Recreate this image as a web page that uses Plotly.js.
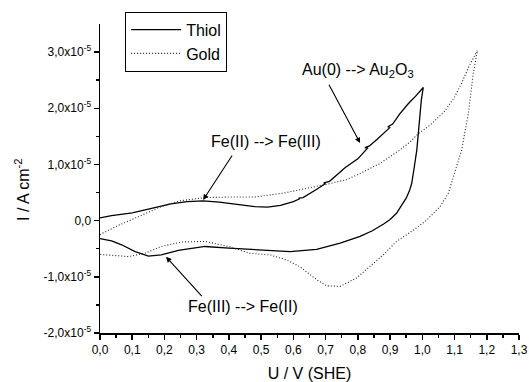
<!DOCTYPE html>
<html>
<head>
<meta charset="utf-8">
<script src="https://cdn.plot.ly/plotly-3.0.1.min.js"></script>
<style>html,body{margin:0;padding:0;background:#fff;}</style>
</head>
<body>
<div id="chart" style="width:529px;height:382px;"></div>
<script>
// Thiol (solid) cyclic voltammogram: potential (V vs SHE) and current density (A cm^-2)
const thiolU = [0.000, 0.036, 0.100, 0.160, 0.220, 0.270, 0.320, 0.370, 0.420, 0.480, 0.520, 0.560, 0.600, 0.620, 0.616, 0.630,
  0.670, 0.700, 0.694, 0.712, 0.740, 0.760, 0.800, 0.830, 0.822, 0.836, 0.860, 0.880, 0.900, 0.893, 0.908, 0.930, 0.957, 0.980, 1.003,
  0.997, 0.993, 0.988, 0.983, 0.975, 0.967, 0.960, 0.950, 0.940, 0.920, 0.900, 0.880, 0.845, 0.807, 0.745, 0.672, 0.590, 0.517,
  0.465, 0.400, 0.326, 0.243, 0.190, 0.150, 0.109, 0.067, 0.036, 0.000];
const thiolI = [0.05e-5, 0.09e-5, 0.14e-5, 0.22e-5, 0.30e-5, 0.34e-5, 0.35e-5, 0.33e-5, 0.29e-5, 0.25e-5, 0.24e-5, 0.27e-5, 0.34e-5, 0.39e-5, 0.40e-5, 0.41e-5,
  0.55e-5, 0.66e-5, 0.67e-5, 0.70e-5, 0.84e-5, 0.94e-5, 1.10e-5, 1.29e-5, 1.30e-5, 1.33e-5, 1.45e-5, 1.56e-5, 1.66e-5, 1.67e-5, 1.72e-5, 1.90e-5, 2.085e-5, 2.22e-5, 2.37e-5,
  2.15e-5, 1.85e-5, 1.55e-5, 1.26e-5, 0.95e-5, 0.66e-5, 0.53e-5, 0.40e-5, 0.31e-5, 0.13e-5, 0.02e-5, -0.06e-5, -0.18e-5, -0.28e-5, -0.40e-5, -0.51e-5, -0.55e-5, -0.53e-5,
  -0.52e-5, -0.49e-5, -0.46e-5, -0.53e-5, -0.61e-5, -0.63e-5, -0.55e-5, -0.43e-5, -0.36e-5, -0.32e-5];

// Gold (dotted) cyclic voltammogram
const goldU = [0.000, 0.047, 0.119, 0.190, 0.250, 0.326, 0.400, 0.480, 0.569, 0.652, 0.714, 0.765, 0.807, 0.869, 0.931, 0.962, 0.988, 1.024,
  1.070, 1.100, 1.122, 1.145, 1.171,
  1.158, 1.143, 1.122, 1.100, 1.091, 1.081, 1.055, 1.024, 1.014, 0.972, 0.920, 0.879, 0.848, 0.796, 0.745, 0.703, 0.672, 0.620, 0.579,
  0.527, 0.465, 0.398, 0.326, 0.253, 0.190, 0.140, 0.088, 0.036, 0.000];
const goldI = [-0.25e-5, -0.11e-5, 0.07e-5, 0.25e-5, 0.355e-5, 0.41e-5, 0.42e-5, 0.42e-5, 0.49e-5, 0.58e-5, 0.66e-5, 0.73e-5, 0.84e-5, 1.02e-5, 1.26e-5, 1.40e-5, 1.55e-5, 1.70e-5,
  1.95e-5, 2.20e-5, 2.45e-5, 2.75e-5, 3.03e-5,
  2.62e-5, 1.91e-5, 1.26e-5, 0.84e-5, 0.66e-5, 0.49e-5, 0.25e-5, 0.06e-5, 0.01e-5, -0.17e-5, -0.37e-5, -0.61e-5, -0.76e-5, -1.02e-5, -1.17e-5, -1.16e-5, -1.05e-5, -0.82e-5, -0.70e-5,
  -0.61e-5, -0.58e-5, -0.46e-5, -0.37e-5, -0.38e-5, -0.46e-5, -0.58e-5, -0.64e-5, -0.61e-5, -0.60e-5];

const yTickVals = [-2e-5, -1e-5, 0, 1e-5, 2e-5, 3e-5];
const yTickText = ['-2,0x10<sup>-5</sup>', '-1,0x10<sup>-5</sup>', '0,0', '1,0x10<sup>-5</sup>', '2,0x10<sup>-5</sup>', '3,0x10<sup>-5</sup>'];
const yMinorVals = [-1.5e-5, -0.5e-5, 0.5e-5, 1.5e-5, 2.5e-5];

const FONT = 'Liberation Sans, Arial, sans-serif';

const traces = [
  {x: thiolU, y: thiolI, name: 'Thiol', mode: 'lines', type: 'scatter',
   line: {color: '#000000', width: 1.3, dash: 'solid'}},
  {x: goldU, y: goldI, name: 'Gold', mode: 'lines', type: 'scatter',
   line: {color: '#222222', width: 1.1, dash: '1px,2px'}}
];

const annText = {font: {family: FONT, size: 16, color: '#000'}, showarrow: false, xref: 'x', yref: 'y'};
const arrow = {text: '', showarrow: true, arrowhead: 2, arrowsize: 1, arrowwidth: 1.1, arrowcolor: '#000',
  xref: 'x', yref: 'y', axref: 'x', ayref: 'y'};

const layout = {
  width: 529, height: 382,
  margin: {l: 100, r: 10, t: 24, b: 49, pad: 0},
  paper_bgcolor: '#ffffff', plot_bgcolor: '#ffffff',
  separators: ',.',
  font: {family: FONT, color: '#000'},
  showlegend: true,
  legend: {x: 0.06, y: 1.04, xanchor: 'left', yanchor: 'top', bordercolor: '#000', borderwidth: 1,
    bgcolor: '#fff', font: {family: FONT, size: 16, color: '#000'}, tracegroupgap: 0, itemwidth: 50},
  xaxis: {range: [0, 1.3], tick0: 0, dtick: 0.1, tickformat: '.1f', ticks: 'outside', ticklen: 5, tickwidth: 1.5,
    tickcolor: '#000', showline: true, linewidth: 1.5, linecolor: '#000', showgrid: false, zeroline: false,
    tickfont: {family: FONT, size: 12, color: '#000'},
    minor: {dtick: 0.05, tick0: 0, ticks: 'outside', ticklen: 3, tickwidth: 1.5, tickcolor: '#000', showgrid: false},
    title: {text: 'U / V (SHE)', font: {family: FONT, size: 16, color: '#000'}, standoff: 13}},
  yaxis: {range: [-2e-5, 3.5e-5], tickmode: 'array', tickvals: yTickVals, ticktext: yTickText, ticks: 'outside',
    ticklen: 5, tickwidth: 1.5, tickcolor: '#000', showline: true, linewidth: 1.5, linecolor: '#000',
    showgrid: false, zeroline: false, tickfont: {family: FONT, size: 12, color: '#000'},
    minor: {tickvals: yMinorVals, ticks: 'outside', ticklen: 3, tickwidth: 1.5, tickcolor: '#000', showgrid: false},
    title: {text: ''}},
  annotations: [
    {xref: 'paper', yref: 'paper', x: -0.186, y: 0.463, xanchor: 'center', yanchor: 'middle', textangle: -90,
     showarrow: false, text: 'I / A cm<sup>-2</sup>', font: {family: FONT, size: 16, color: '#000'}},
    Object.assign({}, annText, {x: 0.80, y: 2.68e-5, text: 'Au(0) --> Au<sub>2</sub>O<sub>3</sub>'}),
    Object.assign({}, annText, {x: 0.515, y: 1.40e-5, text: 'Fe(II) --> Fe(III)'}),
    Object.assign({}, annText, {x: 0.444, y: -1.53e-5, text: 'Fe(III) --> Fe(II)'}),
    Object.assign({}, arrow, {x: 0.807, y: 1.38e-5, ax: 0.708, ay: 2.446e-5}),
    Object.assign({}, arrow, {x: 0.320, y: 0.368e-5, ax: 0.413, ay: 1.185e-5}),
    Object.assign({}, arrow, {x: 0.205, y: -0.645e-5, ax: 0.320, ay: -1.37e-5})
  ]
};

Plotly.newPlot('chart', traces, layout, {displayModeBar: false, staticPlot: true});
</script>
</body>
</html>
